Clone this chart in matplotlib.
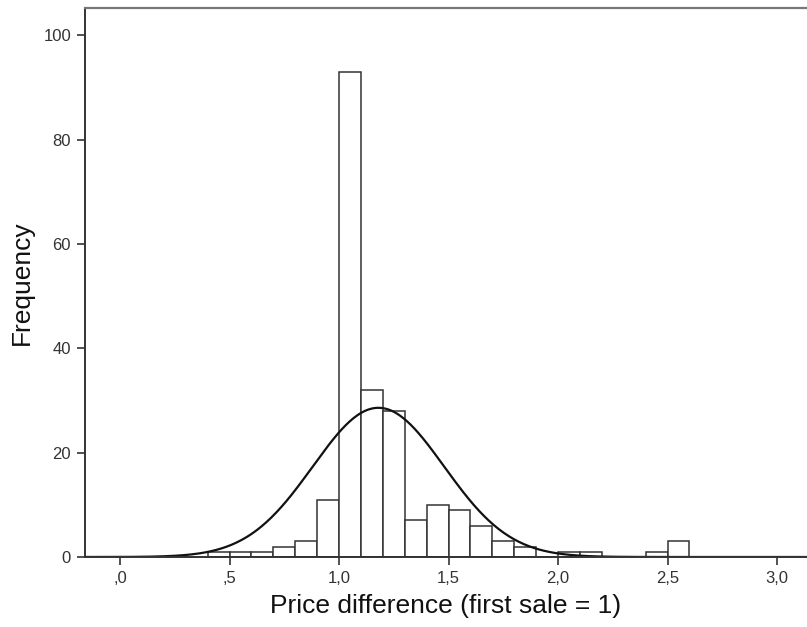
import numpy as np
import matplotlib
matplotlib.use("Agg")
import matplotlib.pyplot as plt

plt.rcParams['font.family'] = ['Liberation Sans', 'DejaVu Sans']

# Histogram bins (left edges) and frequencies
bin_left = [0.4, 0.5, 0.6, 0.7, 0.8, 0.9, 1.0, 1.1, 1.2, 1.3, 1.4, 1.5, 1.6,
            1.7, 1.8, 1.9, 2.0, 2.1, 2.2, 2.3, 2.4, 2.5]
freq = [1, 1, 1, 2, 3, 11, 93, 32, 28, 7, 10, 9, 6,
        3, 2, 0, 1, 1, 0, 0, 1, 3]
bin_width = 0.1

# Normal curve parameters
n_total = 215
curve_mean = 1.18
curve_sd = 0.30

xtick_vals = [0.0, 0.5, 1.0, 1.5, 2.0, 2.5, 3.0]
xtick_labels = [",0", ",5", "1,0", "1,5", "2,0", "2,5", "3,0"]
ytick_vals = [0, 20, 40, 60, 80, 100]

fig = plt.figure(figsize=(8.07, 6.27), dpi=100)
ax = fig.add_axes([85/807, 1 - 557/627, 1 - 85/807, (557 - 8)/627])

spine_col = "#333333"
bar_edge = "#333333"

ax.bar(bin_left, freq, width=bin_width, align='edge', facecolor='white',
       edgecolor=bar_edge, linewidth=1.1, zorder=2)

xs = np.linspace(-0.2, 3.2, 600)
ys = n_total * bin_width / (curve_sd * np.sqrt(2 * np.pi)) * np.exp(-0.5 * ((xs - curve_mean) / curve_sd) ** 2)
ax.plot(xs, ys, color='#111111', linewidth=1.6, zorder=3)

ax.set_xlim(-0.16, 3.137)
ax.set_ylim(0, 105.2)

ax.set_xticks(xtick_vals)
ax.set_xticklabels(xtick_labels)
ax.set_yticks(ytick_vals)

for s in ['left', 'bottom']:
    ax.spines[s].set_color(spine_col)
    ax.spines[s].set_linewidth(1.4)
ax.spines['bottom'].set_zorder(4)
ax.spines['top'].set_color('#777777')
ax.spines['top'].set_linewidth(1.6)
ax.spines['right'].set_visible(False)

ax.tick_params(axis='both', direction='out', length=6, width=1.2, color=spine_col,
               labelsize=12, labelcolor='#333333', pad=4)

ax.set_xlabel("Price difference (first sale = 1)", fontsize=19, color='#111111', labelpad=6)
ax.set_ylabel("Frequency", fontsize=19, color='#111111', labelpad=7)

fig.savefig("out.png", dpi=100)
